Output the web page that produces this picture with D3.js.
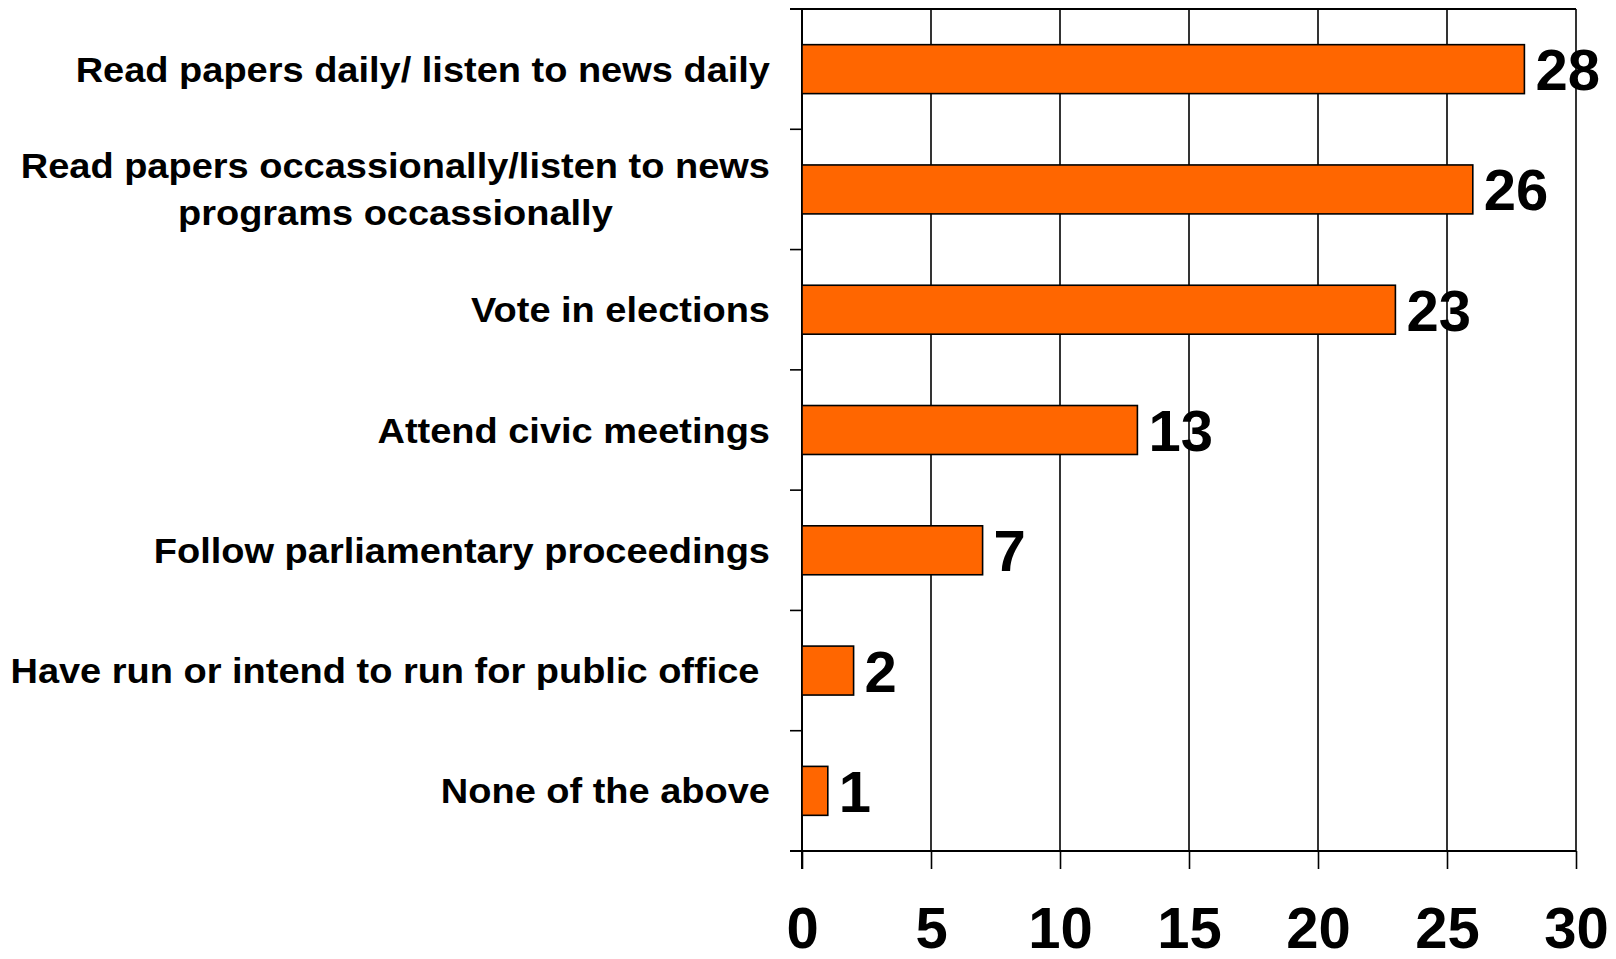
<!DOCTYPE html>
<html>
<head>
<meta charset="utf-8">
<script src="https://cdn.jsdelivr.net/npm/d3@7"></script>
<style>
  html, body { margin: 0; padding: 0; background: #fff; }
  svg { display: block; }
  text { font-family: "Liberation Sans", Arial, sans-serif; font-weight: bold; fill: #000; }
</style>
</head>
<body>
<svg id="chart" width="1616" height="959"></svg>
<script>
const categories = [
  "Read papers daily/ listen to news daily",
  "Read papers occassionally/listen to news\nprograms occassionally",
  "Vote in elections",
  "Attend civic meetings",
  "Follow parliamentary proceedings",
  "Have run or intend to run for public office ",
  "None of the above"
];
const values = [28, 26, 23, 13, 7, 2, 1];
const xTicks = [0, 5, 10, 15, 20, 25, 30];
const xDomain = [0, 30];

const W = 1616, H = 959;
const margin = { top: 9, right: 40, bottom: 108, left: 802 };
const svg = d3.select("#chart");

const x = d3.scaleLinear().domain(xDomain).range([margin.left, W - margin.right]);
const y = d3.scaleBand().domain(categories).range([margin.top, H - margin.bottom])
  .paddingInner(0.593).paddingOuter(0.2965);

const x0 = margin.left, x1 = W - margin.right;
const y0 = margin.top, y1 = H - margin.bottom;

// vertical gridlines
svg.append("g").selectAll("line").data(xTicks.filter(t => t > 0)).join("line")
  .attr("x1", d => x(d)).attr("x2", d => x(d))
  .attr("y1", y0).attr("y2", y1)
  .attr("stroke", "#000").attr("stroke-width", 1.6);

// top border
svg.append("line").attr("x1", x0 - 12).attr("x2", x1).attr("y1", y0).attr("y2", y0)
  .attr("stroke", "#000").attr("stroke-width", 2);

// x axis
const xAxis = d3.axisBottom(x).tickValues(xTicks).tickSize(18).tickFormat(d3.format("d")).tickPadding(24);
const gx = svg.append("g").attr("transform", `translate(0,${y1})`).call(xAxis);
gx.select(".domain").remove();
gx.selectAll(".tick line").attr("stroke", "#000").attr("stroke-width", 1.6);
gx.selectAll(".tick text").attr("font-size", 58).attr("font-family", "Liberation Sans, Arial, sans-serif")
  .attr("font-weight", "bold").attr("fill", "#000").attr("dy", null).attr("y", 105 - 8)
  .style("dominant-baseline", "auto");
svg.append("line").attr("x1", x0 - 12).attr("x2", x1).attr("y1", y1).attr("y2", y1)
  .attr("stroke", "#000").attr("stroke-width", 2);

// y axis line and boundary ticks
svg.append("line").attr("x1", x0).attr("x2", x0).attr("y1", y0).attr("y2", y1 + 18)
  .attr("stroke", "#000").attr("stroke-width", 2);
const bounds = d3.range(categories.length + 1).map(i => y0 + i * y.step());
svg.append("g").selectAll("line").data(bounds).join("line")
  .attr("x1", x0 - 12).attr("x2", x0).attr("y1", d => d).attr("y2", d => d)
  .attr("stroke", "#000").attr("stroke-width", 1.6);

// bars
svg.append("g").selectAll("rect").data(values).join("rect")
  .attr("x", x(0)).attr("y", (d, i) => y(categories[i]))
  .attr("width", d => x(d) - x(0)).attr("height", y.bandwidth())
  .attr("fill", "#FF6600").attr("stroke", "#000").attr("stroke-width", 1.6);

// value labels
svg.append("g").selectAll("text").data(values).join("text")
  .attr("x", d => x(d) + 11)
  .attr("y", (d, i) => y(categories[i]) + y.bandwidth() / 2 + 21)
  .attr("font-size", 58)
  .text(d => d);

// category labels
const stretch = 1.085;
const labelRight = 770;
const lineGap = 47;
categories.forEach((c, i) => {
  const lines = c.split("\n");
  const cy = y(c) + y.bandwidth() / 2;
  const g = svg.append("g");
  const texts = lines.map((ln, j) => g.append("text")
    .attr("font-size", 35)
    .attr("xml:space", "preserve")
    .style("white-space", "pre")
    .attr("y", cy + (j - (lines.length - 1) / 2) * lineGap + 12.5)
    .text(ln));
  const widths = texts.map(t => t.node().getComputedTextLength() * stretch);
  const maxW = d3.max(widths);
  texts.forEach((t, j) => {
    t.attr("textLength", widths[j]).attr("lengthAdjust", "spacingAndGlyphs");
    if (lines.length > 1) {
      t.attr("text-anchor", "middle").attr("x", labelRight - maxW / 2);
    } else {
      t.attr("text-anchor", "end").attr("x", labelRight);
    }
  });
});
</script>
</body>
</html>
